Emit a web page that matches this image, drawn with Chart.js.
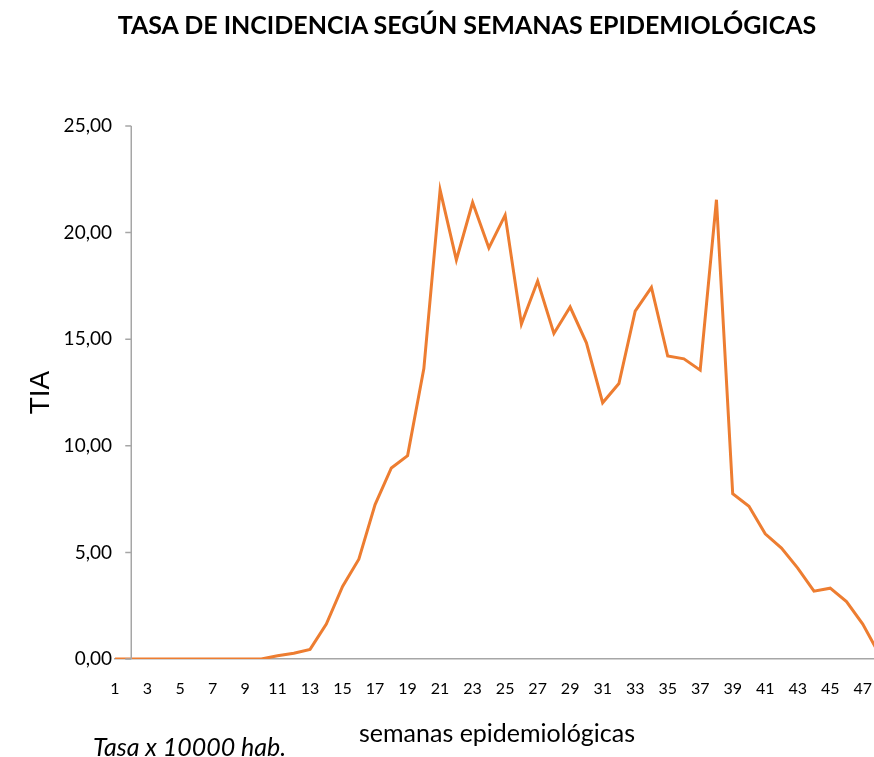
<!DOCTYPE html>
<html>
<head>
<meta charset="utf-8">
<script src="https://cdn.jsdelivr.net/npm/chart.js@4"></script>
<style>
  html, body { margin: 0; padding: 0; background: #fff; overflow: hidden; }
  #wrap { position: relative; width: 934px; height: 757px; }
  #titulo { position: absolute; left: 0; top: 9px; width: 934px; text-align: center;
            font: bold 25px Lato, sans-serif; color: #000; line-height: 30px; }
  #note { position: absolute; left: 93px; top: 731px; font: italic 25px Lato, sans-serif; color: #000; line-height: 30px; }
</style>
</head>
<body>
<div id="wrap">
  <div id="titulo">TASA DE INCIDENCIA SEGÚN SEMANAS EPIDEMIOLÓGICAS</div>
  <canvas id="tiaChart"></canvas>
  <div id="note">Tasa x 10000 hab.</div>
</div>
<script>
const semanas = [
  '1','2','3','4','5','6','7','8','9','10','11','12','13','14','15','16',
  '17','18','19','20','21','22','23','24','25','26','27','28','29','30','31','32',
  '33','34','35','36','37','38','39','40','41','42','43','44','45','46','47','48'
];
const tasa = [
  0, 0, 0, 0, 0, 0, 0, 0, 0, 0, 0.15, 0.27, 0.45, 1.64, 3.4, 4.68,
  7.24, 8.96, 9.54, 13.62, 22.0, 18.72, 21.41, 19.28, 20.82, 15.71, 17.73, 15.27, 16.51, 14.83, 12.02, 12.92,
  16.32, 17.43, 14.21, 14.08, 13.55, 21.54, 7.75, 7.16, 5.87, 5.2, 4.26, 3.18, 3.32, 2.69, 1.64, 0.25
];
const yTicks = [0, 5, 10, 15, 20, 25];

// eje vertical cruzando en la semana 2, como en el original
const ejeVertical = {
    id: 'ejeVertical',
    afterDatasetsDraw(chart) {
        const x = chart.scales.x.getPixelForValue(1);
        const y = chart.scales.y;
        const ctx = chart.ctx;
        ctx.save();
        ctx.strokeStyle = '#a6a6a6';
        ctx.lineWidth = 1.5;
        ctx.beginPath();
        ctx.moveTo(x, y.getPixelForValue(25));
        ctx.lineTo(x, y.getPixelForValue(0));
        yTicks.forEach(v => {
            const py = y.getPixelForValue(v);
            ctx.moveTo(x - 6, py);
            ctx.lineTo(x, py);
        });
        ctx.stroke();
        ctx.restore();
    }
};

new Chart(document.getElementById('tiaChart'), {
    type: 'line',
    data: {
        labels: semanas,
        datasets: [{
            label: 'TIA',
            data: tasa,
            borderColor: '#ed7d31',
            borderWidth: 3,
            pointRadius: 0,
            tension: 0,
            fill: false
        }]
    },
    options: {
        responsive: true,
        maintainAspectRatio: false,
        animation: false,
        layout: { padding: { left: 20, right: 55, top: 126, bottom: 4 } },
        plugins: {
            legend: { display: false },
            tooltip: { enabled: false }
        },
        scales: {
            x: {
                grid: { display: false, drawTicks: false },
                border: { color: '#a6a6a6', width: 1.5 },
                ticks: {
                    autoSkip: false,
                    maxRotation: 0,
                    padding: 20,
                    color: '#000',
                    font: { family: 'Lato', size: 16 },
                    callback: (v, i) => (i % 2 === 0 ? semanas[i] : '')
                },
                title: {
                    display: true,
                    text: 'semanas epidemiológicas',
                    color: '#000',
                    font: { family: 'Lato', size: 25 }
                },
                afterFit: s => { s.height = 94; }
            },
            y: {
                min: 0,
                max: 25,
                grid: { display: false, drawTicks: false },
                border: { display: false },
                ticks: {
                    stepSize: 5,
                    padding: 3,
                    color: '#000',
                    font: { family: 'Lato', size: 19 },
                    callback: v => v.toFixed(2).replace('.', ',')
                },
                title: {
                    display: true,
                    text: 'TIA',
                    color: '#000',
                    font: { family: 'Liberation Sans', size: 28 }
                },
                afterFit: s => { s.width = 95; }
            }
        }
    },
    plugins: [ejeVertical]
});
</script>
</body>
</html>
